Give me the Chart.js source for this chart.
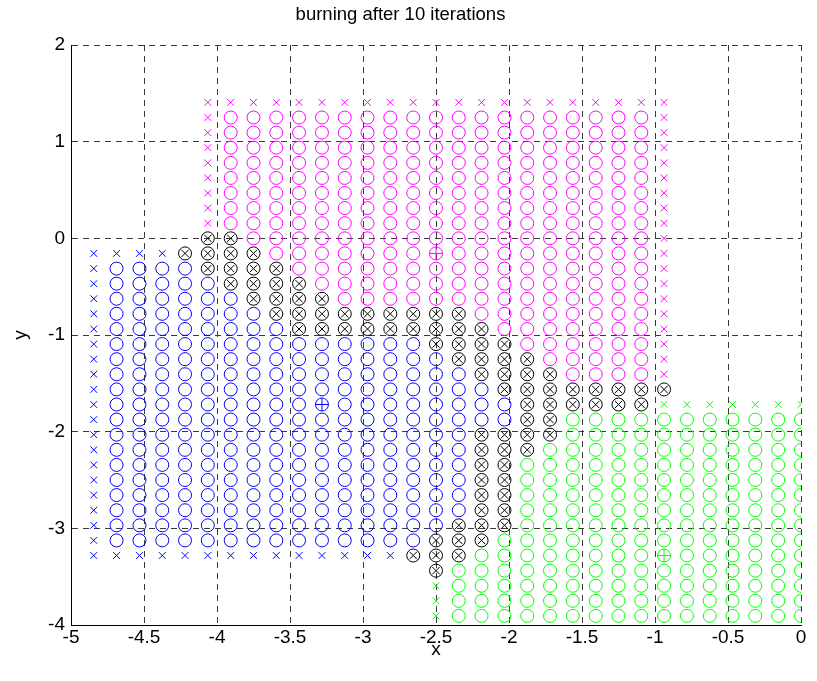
<!DOCTYPE html>
<html>
<head>
<meta charset="utf-8">
<title>burning after 10 iterations</title>
<script src="https://cdn.jsdelivr.net/npm/chart.js@4.4.0/dist/chart.umd.min.js"></script>
<style>
  html, body { margin: 0; padding: 0; background: #fff; }
  canvas { display: block; }
</style>
</head>
<body>
<canvas id="burnChart" width="817" height="681"></canvas>
<script>
// particle lattice: x of each column, y of each row
const xCols = [-4.844, -4.688, -4.531, -4.375, -4.219, -4.063, -3.906, -3.75,
  -3.594, -3.438, -3.281, -3.125, -2.969, -2.813, -2.656, -2.5,
  -2.344, -2.188, -2.031, -1.875, -1.719, -1.563, -1.406, -1.25,
  -1.094, -0.938, -0.781, -0.625, -0.469, -0.313, -0.156, 0];
const yRows = [1.406, 1.25, 1.094, 0.938, 0.781, 0.625, 0.469, 0.313, 0.156, 0,
  -0.156, -0.313, -0.469, -0.625, -0.781, -0.938, -1.094, -1.25, -1.406, -1.563,
  -1.719, -1.875, -2.031, -2.188, -2.344, -2.5, -2.656, -2.813, -2.969, -3.125,
  -3.281, -3.438, -3.594, -3.75, -3.906];

// what sits in each cell, row by row (run length: count + kind)
// . empty, b/B blue o/x, m/M magenta o/x, g/G green o/x, k burnt,
// p/q/r circle with + (blue/magenta/green)
const cellRows = [
  "5. 21M 6.",
  "5. 1M 19m 1M 6.",
  "5. 1M 19m 1M 6.",
  "5. 1M 19m 1M 6.",
  "5. 1M 19m 1M 6.",
  "5. 1M 19m 1M 6.",
  "5. 1M 19m 1M 6.",
  "5. 1M 19m 1M 6.",
  "5. 1M 19m 1M 6.",
  "5. 2k 18m 1M 6.",
  "4B 4k 7m 1q 9m 1M 6.",
  "1B 4b 4k 16m 1M 6.",
  "1B 5b 4k 15m 1M 6.",
  "1B 6b 4k 14m 1M 6.",
  "1B 7b 9k 8m 1M 6.",
  "1B 8b 9k 7m 1M 6.",
  "1B 14b 4k 6m 1M 6.",
  "1B 15b 4k 5m 1M 6.",
  "1B 16b 4k 4m 1M 6.",
  "1B 17b 8k 6.",
  "1B 9b 1p 8b 6k 7G",
  "1B 18b 2k 11g",
  "1B 16b 4k 11g",
  "1B 16b 3k 12g",
  "1B 16b 2k 13g",
  "1B 16b 2k 13g",
  "1B 16b 2k 13g",
  "1B 16b 2k 13g",
  "1B 15b 3k 13g",
  "1B 14b 3k 14g",
  "14B 3k 8g 1r 6g",
  "15. 1k 16g",
  "15. 1G 16g",
  "15. 1G 16g",
  "15. 1G 16g"
];

const xTicks = [-5, -4.5, -4, -3.5, -3, -2.5, -2, -1.5, -1, -0.5, 0];
const xTickLabels = ['-5', '-4.5', '-4', '-3.5', '-3', '-2.5', '-2', '-1.5', '-1', '-0.5', '0'];
const yTicks = [2, 1, 0, -1, -2, -3, -4];
const yTickLabels = ['2', '1', '0', '-1', '-2', '-3', '-4'];
const chartTitle = 'burning after 10 iterations';

// marker sets
const series = {
  blueO:  { color: '#0000ff', style: 'circle',   r: 6.5 },
  blueX:  { color: '#0000ff', style: 'crossRot', r: 4.8 },
  blueP:  { color: '#0000ff', style: 'cross',    r: 6.5 },
  magO:   { color: '#ff00ff', style: 'circle',   r: 6.5 },
  magX:   { color: '#ff00ff', style: 'crossRot', r: 4.8 },
  magP:   { color: '#ff00ff', style: 'cross',    r: 6.5 },
  grnO:   { color: '#00ff00', style: 'circle',   r: 6.5 },
  grnX:   { color: '#00ff00', style: 'crossRot', r: 4.8 },
  grnP:   { color: '#00ff00', style: 'cross',    r: 6.5 },
  blkO:   { color: '#000000', style: 'circle',   r: 6.5 },
  blkX:   { color: '#000000', style: 'crossRot', r: 5.2 }
};
const kinds = {
  b: ['blueO'], B: ['blueX'], p: ['blueO', 'blueP'],
  m: ['magO'],  M: ['magX'],  q: ['magO', 'magP'],
  g: ['grnO'],  G: ['grnX'],  r: ['grnO', 'grnP'],
  k: ['blkO', 'blkX']
};

const points = {};
Object.keys(series).forEach(k => points[k] = []);
cellRows.forEach((row, r) => {
  let c = 0;
  row.split(' ').forEach(tok => {
    const n = parseInt(tok, 10);
    const kind = tok.slice(String(n).length);
    for (let i = 0; i < n; i++) {
      (kinds[kind] || []).forEach(s => points[s].push({ x: xCols[c], y: yRows[r] }));
      c++;
    }
  });
});

const datasets = Object.keys(series).map(k => ({
  label: k,
  data: points[k],
  pointStyle: series[k].style,
  pointRadius: series[k].r,
  pointHoverRadius: series[k].r,
  pointBorderWidth: 1,
  pointBorderColor: series[k].color,
  pointBackgroundColor: 'rgba(0,0,0,0)',
  showLine: false
}));

const fontFam = '"Liberation Sans", Arial, Helvetica, sans-serif';

var ctx = document.getElementById('burnChart').getContext('2d');
var burnChart = new Chart(ctx, {
  type: 'scatter',
  data: { datasets: datasets },
  options: {
    responsive: false,
    animation: false,
    layout: { padding: { left: 0, right: 16, top: 0, bottom: 0 } },
    plugins: {
      legend: { display: false },
      tooltip: { enabled: false },
      title: {
        display: true,
        text: chartTitle,
        color: '#000',
        font: { family: fontFam, size: 18.5, weight: 'normal' },
        padding: { top: 4, bottom: 18.8 }
      }
    },
    scales: {
      x: {
        type: 'linear', min: -5, max: 0,
        afterBuildTicks: s => { s.ticks = xTicks.map(v => ({ value: v })); },
        afterFit: s => { s.height = 56; },
        ticks: {
          color: '#000', padding: 1, maxRotation: 0, autoSkip: false,
          font: { family: fontFam, size: 19 },
          callback: (v) => xTickLabels[xTicks.indexOf(v)]
        },
        grid: { color: '#3a3a3a', lineWidth: 1, drawTicks: false },
        border: { display: true, color: '#000', width: 1, dash: [6, 5] },
        title: {
          display: true, text: 'x', color: '#000',
          font: { family: fontFam, size: 19 },
          padding: { top: 0, bottom: 20 }
        }
      },
      y: {
        type: 'linear', min: -4, max: 2,
        afterBuildTicks: s => { s.ticks = yTicks.map(v => ({ value: v })); },
        afterFit: s => { s.width = 71; },
        ticks: {
          color: '#000', padding: 6, autoSkip: false,
          font: { family: fontFam, size: 19 },
          callback: (v) => yTickLabels[yTicks.indexOf(v)]
        },
        grid: { color: '#3a3a3a', lineWidth: 1, drawTicks: false },
        border: { display: true, color: '#000', width: 1, dash: [6, 5] },
        title: {
          display: true, text: 'y', color: '#000',
          font: { family: fontFam, size: 19 },
          padding: { top: 9, bottom: 0 }
        }
      }
    }
  }
});
</script>
</body>
</html>
